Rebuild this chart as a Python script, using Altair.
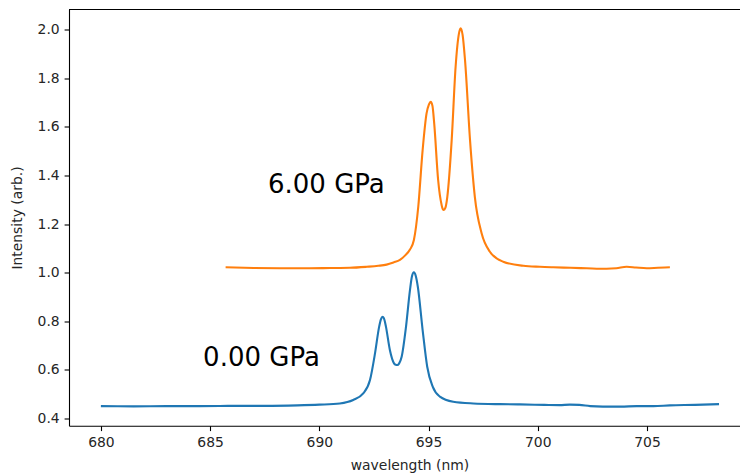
import altair as alt
import pandas as pd

# 0.00 GPa spectrum (blue)
blue_x = [680.0, 681.5, 683.0, 684.5, 686.0, 687.5, 689.0, 690.0, 690.94, 691.55,
          692.01, 692.32, 692.55, 692.74, 692.82, 692.9, 692.98, 693.05, 693.23, 693.42,
          693.5, 693.57, 693.65, 693.77, 693.97, 694.15, 694.24, 694.33, 694.42, 694.51,
          694.73, 694.94, 695.19, 695.52, 696.13, 697.05, 698.27, 699.18, 700.3, 701.0,
          701.47, 701.9, 702.4, 702.98, 703.8, 704.53, 705.3, 706.05, 707.2, 708.3]
blue_y = [0.451, 0.450, 0.451, 0.451, 0.452, 0.452, 0.454, 0.457, 0.462, 0.476,
          0.503, 0.558, 0.668, 0.778, 0.808, 0.818, 0.806, 0.778, 0.682, 0.627,
          0.621, 0.620, 0.626, 0.654, 0.778, 0.928, 0.984, 1.001, 0.985, 0.942,
          0.764, 0.613, 0.531, 0.490, 0.469, 0.462, 0.459, 0.458, 0.456, 0.455,
          0.457, 0.456, 0.451, 0.449, 0.449, 0.451, 0.451, 0.454, 0.456, 0.459]

# 6.00 GPa spectrum (orange)
orange_x = [685.71, 687.0, 688.2, 689.4, 690.49, 691.4, 692.17, 692.7, 693.08, 693.4,
            693.69, 693.92, 694.15, 694.33, 694.53, 694.73, 694.91, 695.02, 695.1, 695.18,
            695.26, 695.44, 695.6, 695.65, 695.7, 695.77, 695.86, 696.06, 696.24, 696.39,
            696.47, 696.56, 696.67, 696.9, 697.12, 697.43, 697.81, 698.42, 699.34, 700.1,
            700.71, 701.5, 702.24, 703.15, 703.6, 704.07, 704.5, 704.99, 705.5, 706.05]
orange_y = [1.022, 1.019, 1.018, 1.018, 1.019, 1.020, 1.024, 1.028, 1.033, 1.042,
            1.052, 1.070, 1.095, 1.134, 1.271, 1.504, 1.655, 1.692, 1.703, 1.686,
            1.614, 1.381, 1.278, 1.262, 1.258, 1.266, 1.312, 1.545, 1.847, 1.982,
            2.005, 1.978, 1.875, 1.545, 1.312, 1.162, 1.086, 1.045, 1.028, 1.024,
            1.022, 1.020, 1.018, 1.016, 1.018, 1.024, 1.021, 1.018, 1.020, 1.022]

labels = ["0.00 GPa", "6.00 GPa"]
label_x = [684.68, 687.65]
label_y = [0.617, 1.329]

x_ticks = [680, 685, 690, 695, 700, 705]
y_ticks = [0.4, 0.6, 0.8, 1.0, 1.2, 1.4, 1.6, 1.8, 2.0]

XDOM = [678.54, 709.26]
YDOM = [0.3704, 2.0823]
W, H = 671, 416.2
FONT = "DejaVu Sans"

df = pd.concat([
    pd.DataFrame({"wl": blue_x, "I": blue_y, "s": "0.00 GPa"}),
    pd.DataFrame({"wl": orange_x, "I": orange_y, "s": "6.00 GPa"}),
])
tdf = pd.DataFrame({"t": labels, "x": label_x, "y": label_y})

xscale = alt.Scale(domain=XDOM, nice=False, zero=False)
yscale = alt.Scale(domain=YDOM, nice=False, zero=False)

lines = alt.Chart(df).mark_line(strokeWidth=2.1, interpolate="monotone").encode(
    x=alt.X("wl:Q", scale=xscale, axis=alt.Axis(
        title="wavelength (nm)", values=x_ticks, format="d", grid=False,
        domainColor="black", domainWidth=1.1, tickColor="black", tickWidth=1.1,
        tickSize=4.9, labelPadding=4.9, labelFont=FONT, labelFontSize=13.9,
        labelColor="#262626", titleFont=FONT, titleFontSize=13.9, titleFontWeight="normal",
        titleColor="#262626", titleX=340.5, titleY=43.3, titleBaseline="alphabetic",
        titleAlign="center", labelFlush=False)),
    y=alt.Y("I:Q", scale=yscale, axis=alt.Axis(
        title="Intensity (arb.)", values=y_ticks, format=".1f", grid=False,
        domainColor="black", domainWidth=1.1, tickColor="black", tickWidth=1.1,
        tickSize=4.9, labelPadding=4.9, labelFont=FONT, labelFontSize=13.9,
        labelColor="#262626", titleFont=FONT, titleFontSize=13.9, titleFontWeight="normal",
        titleColor="#262626", titleX=-51.5, titleY=208, titleAngle=-90,
        titleBaseline="middle", titleAlign="center", labelFlush=False)),
    color=alt.Color("s:N", scale=alt.Scale(domain=labels, range=["#1f77b4", "#ff7f0e"]),
                    legend=None),
)

texts = alt.Chart(tdf).mark_text(align="left", baseline="alphabetic", fontSize=26,
                                 font=FONT, color="black").encode(
    x=alt.X("x:Q", scale=xscale), y=alt.Y("y:Q", scale=yscale), text="t:N")

top = alt.Chart(pd.DataFrame({"a": [0]})).mark_rule(color="black", strokeWidth=1.1).encode(
    x=alt.value(0), x2=alt.value(W + 5), y=alt.value(0))

chart = alt.layer(lines, texts, top).properties(
    width=W, height=H,
    autosize=alt.AutoSizeParams(type="none"),
    padding={"left": 69, "top": 9.5, "right": 0, "bottom": 47.3},
).configure_view(stroke=None)

chart.save("out.html", embed_options={"renderer": "svg", "actions": False})
